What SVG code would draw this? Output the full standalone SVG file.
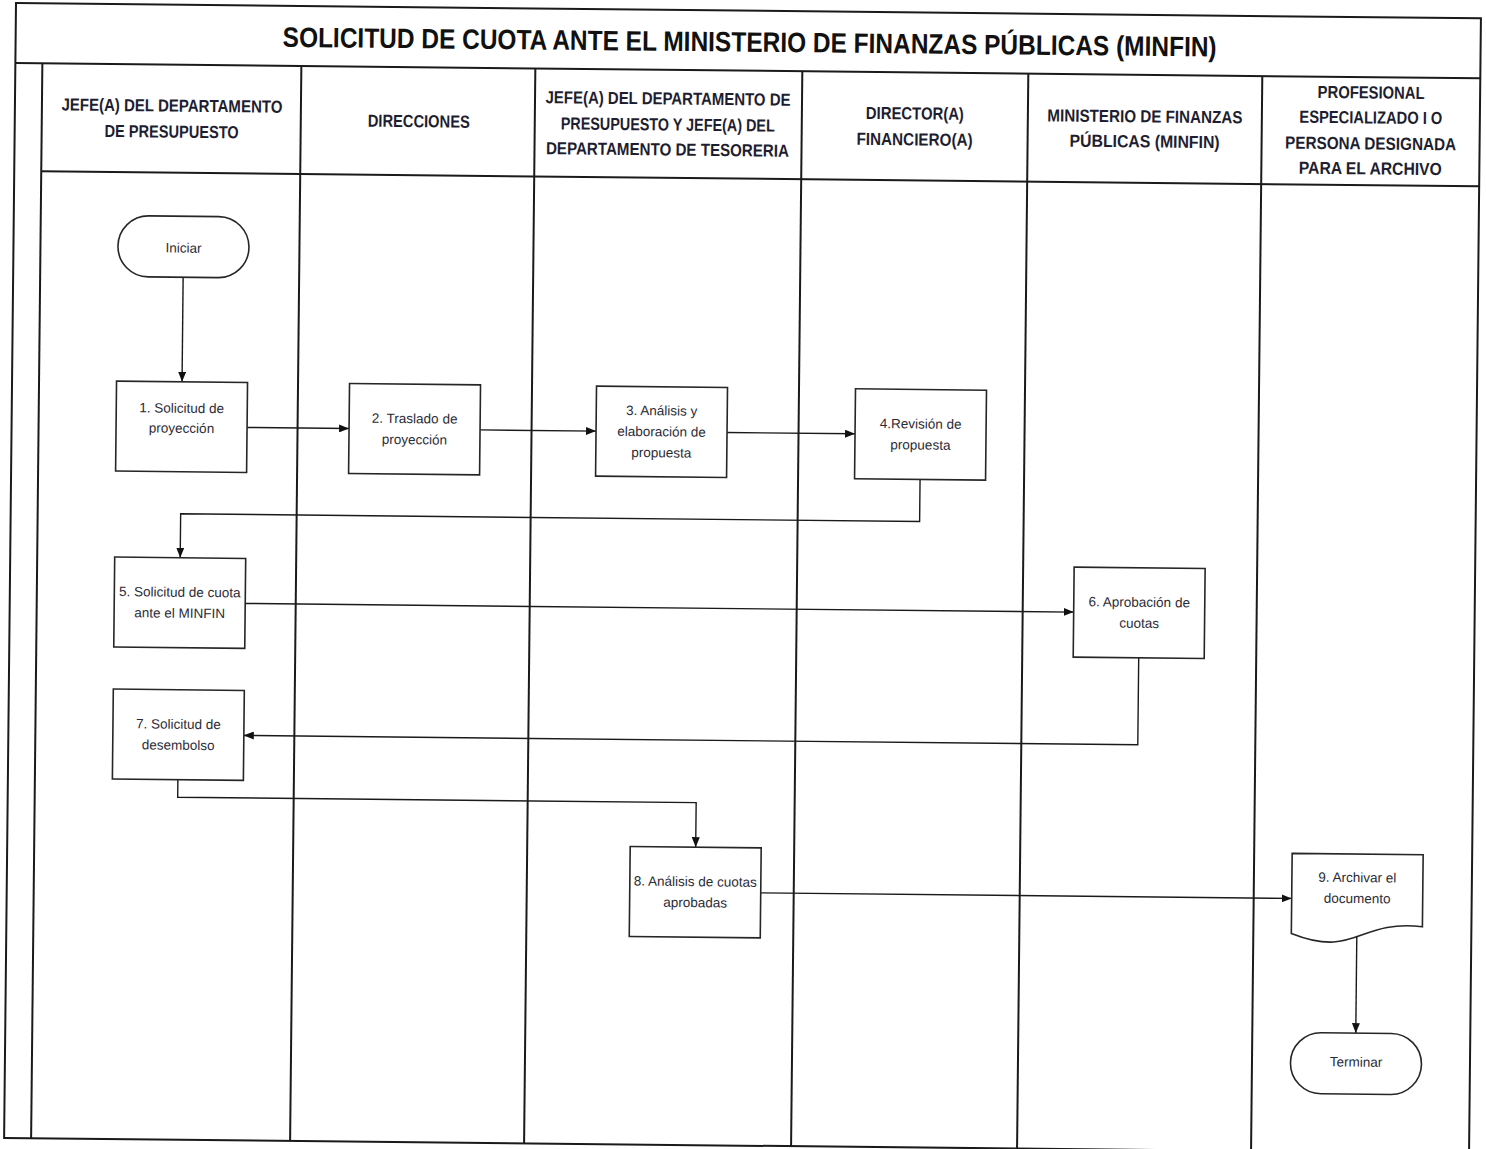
<svg xmlns="http://www.w3.org/2000/svg" width="1486" height="1149" viewBox="0 0 1486 1149">
<defs>
<style>
.frame{fill:none;stroke:#1a1a1a;stroke-width:2}
.node{fill:#fff;stroke:#262626;stroke-width:1.6}
.conn{fill:none;stroke:#1a1a1a;stroke-width:1.4}
.title{font-family:"Liberation Sans",Arial,sans-serif;font-weight:bold;font-size:28px;fill:#111;text-anchor:middle}
.hdr{font-family:"Liberation Sans",Arial,sans-serif;font-weight:bold;font-size:17.5px;fill:#1e1e30;text-anchor:middle}
.lbl{font-family:"Liberation Sans",Arial,sans-serif;font-size:13.5px;fill:#2b2b36;text-anchor:middle}
</style>
<marker id="arr" markerWidth="10" markerHeight="8" refX="10" refY="4" orient="auto" markerUnits="userSpaceOnUse"><path d="M0,0 L10,4 L0,8 z" fill="#111"/></marker>
</defs>
<rect width="1486" height="1149" fill="#fff"/>
<g transform="rotate(0.6 16 3)">
 <g id="frame" class="frame">
  <rect x="16" y="3" width="1465" height="1135"/>
  <line x1="16" y1="63" x2="1481" y2="63"/>
  <line x1="43" y1="171" x2="1481" y2="171"/>
  <line x1="43" y1="63" x2="43" y2="1138"/>
  <line x1="302" y1="63" x2="302" y2="1138"/>
  <line x1="536" y1="63" x2="536" y2="1138"/>
  <line x1="803" y1="63" x2="803" y2="1138"/>
  <line x1="1029" y1="63" x2="1029" y2="1138"/>
  <line x1="1263" y1="63" x2="1263" y2="1138"/>
 </g>
 <g id="title">
  <text class="title" x="750" y="44" textLength="934" lengthAdjust="spacingAndGlyphs">SOLICITUD DE CUOTA ANTE EL MINISTERIO DE FINANZAS PÚBLICAS (MINFIN)</text>
 </g>
 <g id="headers">
  <text class="hdr" x="173" y="110" textLength="221" lengthAdjust="spacingAndGlyphs">JEFE(A) DEL DEPARTAMENTO</text>
  <text class="hdr" x="173" y="136" textLength="134" lengthAdjust="spacingAndGlyphs">DE PRESUPUESTO</text>
  <text class="hdr" x="420" y="123" textLength="102" lengthAdjust="spacingAndGlyphs">DIRECCIONES</text>
  <text class="hdr" x="669" y="97.7" textLength="245" lengthAdjust="spacingAndGlyphs">JEFE(A) DEL DEPARTAMENTO DE</text>
  <text class="hdr" x="669" y="123.7" textLength="214" lengthAdjust="spacingAndGlyphs">PRESUPUESTO Y JEFE(A) DEL</text>
  <text class="hdr" x="669" y="148.7" textLength="243" lengthAdjust="spacingAndGlyphs">DEPARTAMENTO DE TESORERIA</text>
  <text class="hdr" x="916" y="110" textLength="98" lengthAdjust="spacingAndGlyphs">DIRECTOR(A)</text>
  <text class="hdr" x="916" y="136" textLength="116" lengthAdjust="spacingAndGlyphs">FINANCIERO(A)</text>
  <text class="hdr" x="1146" y="110.6" textLength="195" lengthAdjust="spacingAndGlyphs">MINISTERIO DE FINANZAS</text>
  <text class="hdr" x="1146" y="135.6" textLength="150" lengthAdjust="spacingAndGlyphs">PÚBLICAS (MINFIN)</text>
  <text class="hdr" x="1372" y="84.3" textLength="107" lengthAdjust="spacingAndGlyphs">PROFESIONAL</text>
  <text class="hdr" x="1372" y="109.3" textLength="143" lengthAdjust="spacingAndGlyphs">ESPECIALIZADO I O</text>
  <text class="hdr" x="1372" y="135.3" textLength="171" lengthAdjust="spacingAndGlyphs">PERSONA DESIGNADA</text>
  <text class="hdr" x="1372" y="160.3" textLength="143" lengthAdjust="spacingAndGlyphs">PARA EL ARCHIVO</text>
 </g>
 <g id="connectors" class="conn">
  <path d="M186,275.5 V380" marker-end="url(#arr)"/>
  <path d="M251.5,425 H353.5" marker-end="url(#arr)"/>
  <path d="M484.5,425 H600.5" marker-end="url(#arr)"/>
  <path d="M731.5,425 H859.5" marker-end="url(#arr)"/>
  <path d="M925,470 V512 H186 V556" marker-end="url(#arr)"/>
  <path d="M251.5,601 H1080" marker-end="url(#arr)"/>
  <path d="M1145.5,646 V733 H251.5" marker-end="url(#arr)"/>
  <path d="M186,778 V795.5 H704.5 V840" marker-end="url(#arr)"/>
  <path d="M770,885 H1301" marker-end="url(#arr)"/>
  <path d="M1366.5,920 V1019" marker-end="url(#arr)"/>
 </g>
 <g id="n-iniciar">
  <rect class="node" x="120.5" y="214.5" width="131" height="61" rx="30.5"/>
  <text class="lbl" x="186" y="250.8">Iniciar</text>
 </g>
 <g id="n1">
  <rect class="node" x="120.5" y="380" width="131" height="90"/>
  <text class="lbl" x="186" y="411">1. Solicitud de</text>
  <text class="lbl" x="186" y="431">proyección</text>
 </g>
 <g id="n2">
  <rect class="node" x="353.5" y="380" width="131" height="90"/>
  <text class="lbl" x="419" y="419">2. Traslado de</text>
  <text class="lbl" x="419" y="440">proyección</text>
 </g>
 <g id="n3">
  <rect class="node" x="600.5" y="380" width="131" height="90"/>
  <text class="lbl" x="666" y="408.5">3. Análisis y</text>
  <text class="lbl" x="666" y="429.5">elaboración de</text>
  <text class="lbl" x="666" y="450.5">propuesta</text>
 </g>
 <g id="n4">
  <rect class="node" x="859.5" y="380" width="131" height="90"/>
  <text class="lbl" x="925" y="419">4.Revisión de</text>
  <text class="lbl" x="925" y="440">propuesta</text>
 </g>
 <g id="n5">
  <rect class="node" x="120.5" y="556" width="131" height="90"/>
  <text class="lbl" x="186" y="595">5. Solicitud de cuota</text>
  <text class="lbl" x="186" y="616">ante el MINFIN</text>
 </g>
 <g id="n6">
  <rect class="node" x="1080" y="556" width="131" height="90"/>
  <text class="lbl" x="1145.5" y="595">6. Aprobación de</text>
  <text class="lbl" x="1145.5" y="616">cuotas</text>
 </g>
 <g id="n7">
  <rect class="node" x="120.5" y="688" width="131" height="90"/>
  <text class="lbl" x="186" y="727">7. Solicitud de</text>
  <text class="lbl" x="186" y="748">desembolso</text>
 </g>
 <g id="n8">
  <rect class="node" x="639" y="840" width="131" height="90"/>
  <text class="lbl" x="704.5" y="879">8. Análisis de cuotas</text>
  <text class="lbl" x="704.5" y="900">aprobadas</text>
 </g>
 <g id="n9">
  <path class="node" d="M1301,840 H1432 V912 C1366.5,905 1366.5,945 1301,920 Z"/>
  <text class="lbl" x="1366.5" y="868">9. Archivar el</text>
  <text class="lbl" x="1366.5" y="889">documento</text>
 </g>
 <g id="n-terminar">
  <rect class="node" x="1301.5" y="1019" width="131" height="61" rx="30.5"/>
  <text class="lbl" x="1367" y="1052.5">Terminar</text>
 </g>
</g>
</svg>
